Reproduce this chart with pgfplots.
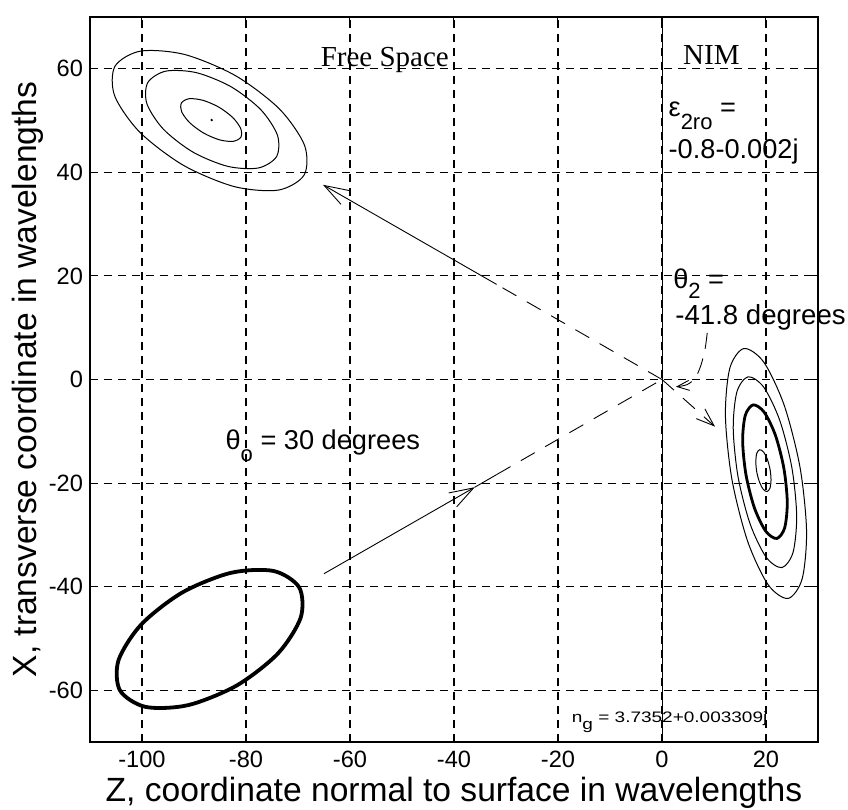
\documentclass[border=0pt]{standalone}
\usepackage{fontspec}
\setmainfont{Liberation Sans}
\newfontfamily\timesfont{Liberation Serif}
\newfontfamily\widefont[FakeStretch=1.25]{Liberation Sans}
\usepackage{pgfplots}
\pgfplotsset{compat=1.18}
\usetikzlibrary{arrows.meta}
\newcommand{\fs}[1]{\fontsize{#1}{#1}\selectfont}
\begin{document}
\begin{tikzpicture}
\useasboundingbox (-45pt,-34pt) rectangle (379pt,371pt);
\begin{axis}[
  scale only axis, width=364pt, height=362.5pt,
  xmin=-110, xmax=30, ymin=-70, ymax=70,
  xtick={-100,-80,...,20}, ytick={-60,-40,...,60},
  grid=major,
  major grid style={black, line width=0.55pt, dash pattern=on 4pt off 3pt},
  axis line style={black, line width=0.8pt},
  tick style={black, line width=0.5pt},
  tick align=inside, major tick length=4pt,
  /pgf/number format/assume math mode=true,
  tick label style={font=\fs{11.8}},
  xticklabel style={yshift=-1pt},
  xlabel={Z, coordinate normal to surface in wavelengths},
  ylabel={X, transverse coordinate in wavelengths},
  label style={font=\fs{16.8}},
  xlabel style={at={(axis description cs:0.5,-0.048)}, anchor=north, inner sep=0pt},
  ylabel style={at={(axis description cs:-0.063,0.5)}, anchor=south, inner sep=0pt},
  clip=false,
]
% interface line
\addplot[black, line width=0.3pt] coordinates {(0,-70) (0,70)};

% free-space reflected beam contours (top left)
\addplot[black, line width=0.5pt, smooth cycle] coordinates {
(-68.81,39.5) (-68.75,45.24) (-73.58,52.25) (-82,58.66) (-91.76,62.75) (-100.25,63.42)
(-105.19,60.5) (-105.25,54.76) (-100.42,47.75) (-92,41.34) (-82.24,37.25) (-73.75,36.58)};
\addplot[black, line width=0.5pt, smooth cycle] coordinates {
(-74.12,43.05) (-73.95,47.17) (-77.15,52.1) (-82.85,56.52) (-89.53,59.25) (-95.4,59.55)
(-98.88,57.35) (-99.05,53.23) (-95.85,48.3) (-90.15,43.88) (-83.47,41.15) (-77.6,40.85)};
\addplot[black, line width=0.5pt, smooth cycle] coordinates {
(-80.98,46.8) (-81.03,48.5) (-82.58,50.62) (-85.25,52.61) (-88.3,53.92) (-90.93,54.22)
(-92.42,53.4) (-92.38,51.71) (-90.82,49.58) (-88.15,47.59) (-85.1,46.28) (-82.48,45.99)};
\addplot[black, only marks, mark=*, mark size=0.4pt] coordinates {(-86.6,50.1)};

% incident beam (bottom left, thick)
\addplot[black, line width=1.9pt, smooth cycle] coordinates {
(-69.77,-40.15) (-74.68,-36.98) (-82.88,-37.33) (-92.2,-41.1) (-100.12,-47.28) (-104.52,-54.22)
(-104.23,-60.05) (-99.32,-63.22) (-91.12,-62.88) (-81.8,-59.1) (-73.88,-52.93) (-69.48,-45.98)};

% NIM transmitted beam contours (right)
\addplot[black, line width=0.5pt, smooth cycle] coordinates {
(24.25,-42.28) (26.96,-38.47) (27.8,-29.21) (26.55,-17.0) (23.54,-5.09) (19.59,3.33)
(15.75,5.98) (13.04,2.17) (12.2,-7.09) (13.45,-19.3) (16.46,-31.21) (20.41,-39.63)};
\addplot[black, line width=0.5pt, smooth cycle] coordinates {
(23.05,-36.32) (25.2,-33.39) (25.9,-26.32) (24.97,-16.99) (22.65,-7.9) (19.57,-1.49)
(16.55,0.52) (14.4,-2.41) (13.7,-9.48) (14.63,-18.81) (16.95,-27.9) (20.03,-34.31)};
\addplot[black, line width=1.4pt, smooth cycle] coordinates {
(22.07,-30.7) (23.59,-28.65) (24.09,-23.69) (23.44,-17.16) (21.82,-10.79) (19.65,-6.31)
(17.53,-4.9) (16.01,-6.95) (15.51,-11.91) (16.16,-18.44) (17.78,-24.81) (19.95,-29.29)};
\addplot[black, line width=0.5pt, smooth cycle] coordinates {
(20.21,-21.64) (20.76,-20.98) (20.97,-19.42) (20.78,-17.37) (20.25,-15.39) (19.52,-13.99)
(18.79,-13.56) (18.24,-14.22) (18.04,-15.78) (18.22,-17.83) (18.75,-19.82) (19.48,-21.21)};

% incident ray
\addplot[black, line width=0.45pt, -{Straight Barb[length=12pt,width=8pt]}] coordinates {(-65,-37.5) (-36,-20.8)};
\addplot[black, line width=0.45pt] coordinates {(-36,-20.8) (-31.8,-18.36)};
\addplot[black, line width=0.45pt, dash pattern=on 8pt off 6pt] coordinates {(-31.8,-18.36) (0,0)};
% reflected ray
\addplot[black, line width=0.45pt, dash pattern=on 8pt off 6pt] coordinates {(0,0) (-31.8,18.36)};
\addplot[black, line width=0.45pt, -{Straight Barb[length=12pt,width=8pt]}] coordinates {(-31.8,18.36) (-65.2,37.6)};
% transmitted ray
\addplot[black, line width=0.45pt, dash pattern=on 8pt off 6pt, -{Straight Barb[length=9pt,width=6.5pt]}] coordinates {(0,0) (10.2,-9.1)};
% angle pointer
\addplot[black, line width=0.45pt, dash pattern=on 8pt off 5pt, smooth, -{Straight Barb[length=6pt,width=5pt]}] coordinates {(8.7,9.0) (8.3,6.0) (7.5,2.8) (6.4,0.3) (4.8,-1.0) (2.7,-1.4)};

% texts
\node[anchor=base, inner sep=0pt, font=\timesfont\fs{14.5}] at (axis cs:-53.3,60.5) {Free Space};
\node[anchor=base, inner sep=0pt, font=\timesfont\fs{14.5}] at (axis cs:9.5,60.8) {NIM};
\node[anchor=base west, inner sep=0pt, font=\fs{13.6}] at (axis cs:1.2,50.7) {ε\raisebox{-6.5pt}{\fs{11}2ro} =};
\node[anchor=base west, inner sep=0pt, font=\fs{13.6}] at (axis cs:1.2,42.6) {-0.8-0.002j};
\node[anchor=base west, inner sep=0pt, font=\fs{13.6}] at (axis cs:2.1,17.5) {θ\raisebox{-5pt}{\fs{11}2} =};
\node[anchor=base west, inner sep=0pt, font=\fs{13.8}] at (axis cs:2.5,10.7) {-41.8 degrees};
\node[anchor=base west, inner sep=0pt, font=\fs{13.6}] at (axis cs:-84,-13.6) {θ\raisebox{-6pt}{\fs{11}o} = 30 degrees};
\node[anchor=base west, inner sep=0pt, font=\widefont\fs{7.6}] at (axis cs:-17.4,-66.2) {n\raisebox{-3.5pt}{g} = 3.7352+0.003309j};
\end{axis}
\end{tikzpicture}
\end{document}
